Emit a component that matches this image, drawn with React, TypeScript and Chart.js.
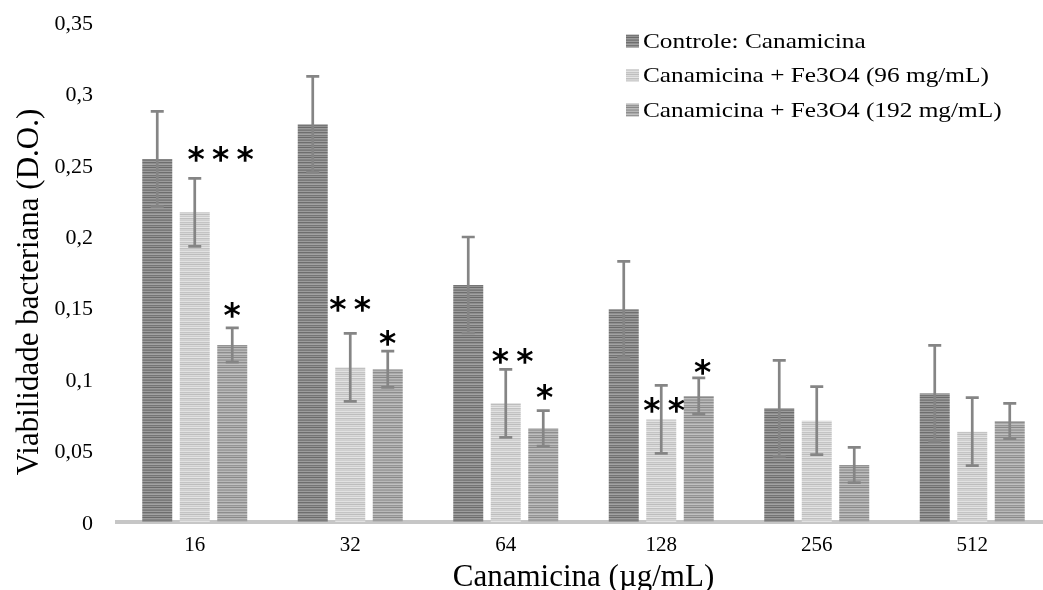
import React, { useEffect, useRef } from "react";
import { Chart, registerables } from "chart.js";

Chart.register(...registerables);

const categories = ["16", "32", "64", "128", "256", "512"];
const seriesNames = [
  "Controle: Canamicina",
  "Canamicina + Fe3O4 (96 mg/mL)",
  "Canamicina + Fe3O4 (192 mg/mL)",
];
const controle = [0.2541, 0.2784, 0.1659, 0.1489, 0.0796, 0.0901];
const controleErr = [0.0333, 0.0336, 0.0336, 0.0336, 0.0336, 0.0336];
const fe96 = [0.2168, 0.1083, 0.0831, 0.0719, 0.0709, 0.0632];
const fe96Err = [0.0238, 0.0238, 0.0238, 0.0238, 0.0238, 0.0238];
const fe192 = [0.1239, 0.1069, 0.0656, 0.0882, 0.0399, 0.0707];
const fe192Err = [0.012, 0.0127, 0.0124, 0.0127, 0.0123, 0.0123];
const sig96 = ["***", "**", "**", "**", "", ""];
const sig192 = ["*", "*", "*", "*", "", ""];
const yTickLabels = ["0", "0,05", "0,1", "0,15", "0,2", "0,25", "0,3", "0,35"];
const xTitle = "Canamicina (\u00b5g/mL)";
const yTitle = "Viabilidade bacteriana (D.O.)";

// placement of significance marks (pixel offsets from bar centre / error-bar top)
const sigPlacement96 = [[26, -24], [0, -29], [7, -13], [3, 19.5]];
const sigPlacement192 = [[0, -18], [0, -13], [1.5, -19], [4, -11]];

const stripeColors = [
  ["#7b7b7b", "#9c9c9c", "#6e6e6e", "#8e8e8e", "#a2a2a2", "#757575", "#939393", "#6a6a6a", "#9a9a9a", "#858585"],
  ["#cfcfcf", "#e2e2e2", "#c4c4c4", "#d8d8d8", "#bdbdbd", "#dcdcdc", "#cacaca", "#e5e5e5", "#c0c0c0", "#d4d4d4"],
  ["#9e9e9e", "#b8b8b8", "#8d8d8d", "#aaaaaa", "#c0c0c0", "#959595", "#b0b0b0", "#888888", "#bababa", "#a3a3a3"],
];

function makePattern(colors: string[]): CanvasPattern | string {
  const c = document.createElement("canvas");
  c.width = 1;
  c.height = colors.length;
  const ctx = c.getContext("2d");
  if (!ctx) return colors[0];
  colors.forEach((col, i) => {
    ctx.fillStyle = col;
    ctx.fillRect(0, i, 1, 1);
  });
  return ctx.createPattern(c, "repeat") || colors[0];
}

export default function App() {
  const ref = useRef<HTMLCanvasElement | null>(null);

  useEffect(() => {
    document.documentElement.style.overflow = "hidden";
    document.body.style.overflow = "hidden";
    const canvas = ref.current;
    if (!canvas) return;
    const patterns = stripeColors.map(makePattern);
    const errs = [controleErr, fe96Err, fe192Err];
    const sigs = [null, sig96, sig192];
    const placements = [null, sigPlacement96, sigPlacement192];

    const errorBars = {
      id: "errorBars",
      afterDatasetsDraw(chart: any) {
        const ctx = chart.ctx;
        const y = chart.scales.y;
        ctx.save();
        ctx.strokeStyle = "#858585";
        ctx.lineWidth = 2.7;
        chart.data.datasets.forEach((ds: any, di: number) => {
          const meta = chart.getDatasetMeta(di);
          meta.data.forEach((bar: any, i: number) => {
            const v = ds.data[i];
            const e = errs[di][i];
            const top = y.getPixelForValue(v + e);
            const bot = y.getPixelForValue(v - e);
            const x = bar.x;
            const cap = 6.5;
            ctx.beginPath();
            ctx.moveTo(x, top);
            ctx.lineTo(x, bot);
            ctx.moveTo(x - cap, top);
            ctx.lineTo(x + cap, top);
            ctx.moveTo(x - cap, bot);
            ctx.lineTo(x + cap, bot);
            ctx.stroke();
          });
        });
        // significance marks
        ctx.fillStyle = "#000";
        ctx.font = 'bold 33px "DejaVu Sans"';
        ctx.textAlign = "center";
        ctx.textBaseline = "alphabetic";
        const pitch = 24.5;
        chart.data.datasets.forEach((ds: any, di: number) => {
          const s = sigs[di];
          const pl = placements[di];
          if (!s || !pl) return;
          const meta = chart.getDatasetMeta(di);
          meta.data.forEach((bar: any, i: number) => {
            const txt = s[i];
            if (!txt) return;
            const top = y.getPixelForValue(ds.data[i] + errs[di][i]);
            const cx = bar.x + pl[i][0];
            const cy = top + pl[i][1];
            const chars = Array.from(txt);
            chars.forEach((ch, k) => {
              const m = ctx.measureText(ch);
              const by = cy + (m.actualBoundingBoxAscent - m.actualBoundingBoxDescent) / 2;
              ctx.fillText(ch, cx + (k - (chars.length - 1) / 2) * pitch, by);
            });
          });
        });
        ctx.restore();
      },
    };

    const customLegend = {
      id: "customLegend",
      afterDraw(chart: any) {
        const ctx = chart.ctx;
        ctx.save();
        ctx.font = '22px "Liberation Serif"';
        ctx.textAlign = "left";
        ctx.textBaseline = "middle";
        seriesNames.forEach((name, i) => {
          const cy = 41 + i * 34.5;
          ctx.fillStyle = patterns[i] as any;
          ctx.fillRect(626, cy - 6.5, 13, 13);
          ctx.fillStyle = "#000";
          ctx.save();
          ctx.translate(643, cy + 1);
          ctx.scale(1.15, 1);
          ctx.fillText(name, 0, 0);
          ctx.restore();
        });
        // y-axis title
        ctx.save();
        ctx.font = '31px "Liberation Serif"';
        ctx.textAlign = "center";
        ctx.textBaseline = "middle";
        ctx.fillStyle = "#000";
        ctx.translate(30, 292);
        ctx.rotate(-Math.PI / 2);
        ctx.fillText(yTitle, 0, 0);
        ctx.restore();
        ctx.restore();
      },
    };

    const chart = new Chart(canvas, {
      type: "bar",
      data: {
        labels: categories,
        datasets: [
          { label: seriesNames[0], data: controle, backgroundColor: patterns[0] as any },
          { label: seriesNames[1], data: fe96, backgroundColor: patterns[1] as any },
          { label: seriesNames[2], data: fe192, backgroundColor: patterns[2] as any },
        ],
      },
      options: {
        responsive: false,
        animation: false,
        devicePixelRatio: 1,
        layout: { padding: { top: 22, right: 0, bottom: 0, left: 0 } },
        datasets: {
          bar: { categoryPercentage: 0.7235, barPercentage: 0.8 },
        },
        plugins: {
          legend: { display: false },
          tooltip: { enabled: false },
        },
        scales: {
          x: {
            grid: { display: false, drawTicks: false },
            border: { display: true, color: "#c6c6c6", width: 4 },
            ticks: {
              color: "#000",
              font: { family: '"Liberation Serif"', size: 21 },
              padding: 11,
            },
            title: {
              display: true,
              text: xTitle,
              color: "#000",
              font: { family: '"Liberation Serif"', size: 31, lineHeight: 0.8 },
              padding: { top: 0, bottom: 0 },
            },
            afterFit(scale: any) {
              scale.height = 68;
              scale.paddingLeft = 0;
              scale.paddingRight = 0;
            },
          },
          y: {
            min: 0,
            max: 0.35,
            grid: { display: false, drawTicks: false },
            border: { display: false },
            ticks: {
              stepSize: 0.05,
              color: "#000",
              font: { family: '"Liberation Serif"', size: 22 },
              padding: 24,
              labelOffset: 2,
              callback: (_v: any, i: number) => yTickLabels[i],
            },
            title: { display: false },
            afterFit(scale: any) {
              scale.width = 117;
              scale.paddingTop = 0;
              scale.paddingBottom = 0;
            },
          },
        },
      },
      plugins: [errorBars, customLegend],
    });
    return () => chart.destroy();
  }, []);

  return (
    <div style={{ position: "absolute", left: 0, top: 0, width: 1050, height: 590, background: "#fff" }}>
      <canvas ref={ref} width={1050} height={590} style={{ display: "block" }} />
    </div>
  );
}
